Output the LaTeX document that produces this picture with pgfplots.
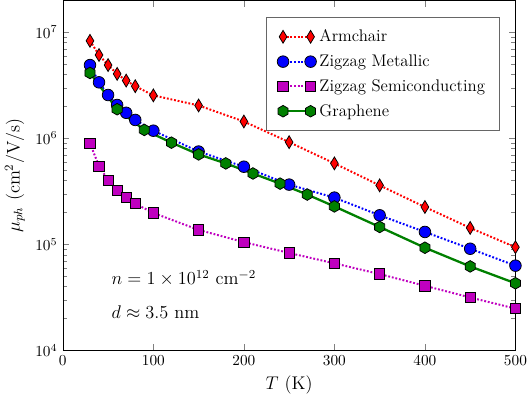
\documentclass[border=0pt]{standalone}
\usepackage{pgfplots}
\pgfplotsset{compat=1.18}
\definecolor{mred}{RGB}{255,0,0}
\definecolor{mblue}{RGB}{0,0,255}
\definecolor{mmag}{RGB}{191,0,191}
\definecolor{mgreen}{RGB}{0,128,0}
% hexagon marker, vertex on top
\pgfdeclareplotmark{hexagon}{%
  \pgfpathmoveto{\pgfqpointpolar{90}{\pgfplotmarksize}}%
  \pgfpathlineto{\pgfqpointpolar{150}{\pgfplotmarksize}}%
  \pgfpathlineto{\pgfqpointpolar{210}{\pgfplotmarksize}}%
  \pgfpathlineto{\pgfqpointpolar{270}{\pgfplotmarksize}}%
  \pgfpathlineto{\pgfqpointpolar{330}{\pgfplotmarksize}}%
  \pgfpathlineto{\pgfqpointpolar{30}{\pgfplotmarksize}}%
  \pgfpathclose\pgfusepathqfillstroke}
\begin{document}
\begin{tikzpicture}
\begin{axis}[
  scale only axis,
  width=296pt, height=229pt,
  ymode=log,
  xmin=0, xmax=500, ymin=1e4, ymax=2e7,
  xtick={0,100,200,300,400,500},
  ytick={1e4,1e5,1e6,1e7},
  xlabel={\large $T$ (K)},
  ylabel={\large $\mu_{ph}$ (cm$^2$/V/s)},
  tick align=inside,
  legend cell align=left,
  legend style={at={(0.964,0.952)}, anchor=north east, draw=black!60,
    font=\fontsize{11}{13}\selectfont, inner xsep=7pt, inner ysep=6pt, row sep=3pt},
  legend image code/.code={
    \draw[mark repeat=2, mark phase=1] plot coordinates {(0pt,0pt) (9pt,0pt) (18pt,0pt)};},
]
\addplot[mred, line width=1.3pt, dash pattern=on 1.2pt off 1.2pt,
  mark=diamond*, mark size=4.2pt, mark options={solid, fill=mred, draw=black, line width=0.5pt, xscale=0.8}]
coordinates {
(30,8.3e6) (40,6.1e6) (50,4.9e6) (60,4.05e6) (70,3.5e6) (80,3.1e6) (100,2.54e6)
(150,2.04e6) (200,1.44e6) (250,9.2e5) (300,5.8e5) (350,3.6e5) (400,2.25e5)
(450,1.43e5) (500,9.4e4)};
\addlegendentry{Armchair}
\addplot[mblue, line width=1.3pt, dash pattern=on 1.2pt off 1.2pt,
  mark=*, mark size=3.8pt, mark options={solid, fill=mblue, draw=black, line width=0.5pt}]
coordinates {
(30,4.9e6) (40,3.37e6) (50,2.56e6) (60,2.06e6) (70,1.74e6) (80,1.49e6) (100,1.18e6)
(150,7.5e5) (200,5.4e5) (250,3.66e5) (300,2.76e5) (350,1.88e5) (400,1.31e5)
(450,9.1e4) (500,6.3e4)};
\addlegendentry{Zigzag Metallic}
\addplot[mmag, line width=1.3pt, dash pattern=on 1.2pt off 1.2pt,
  mark=square*, mark size=3.4pt, mark options={solid, fill=mmag, draw=black, line width=0.5pt}]
coordinates {
(30,8.97e5) (40,5.46e5) (50,4.03e5) (60,3.25e5) (70,2.76e5) (80,2.42e5) (100,1.98e5)
(150,1.37e5) (200,1.05e5) (250,8.3e4) (300,6.63e4) (350,5.25e4) (400,4.07e4)
(450,3.16e4) (500,2.48e4)};
\addlegendentry{Zigzag Semiconducting}
\addplot[mgreen, line width=1.5pt, solid,
  mark=hexagon, mark size=3.8pt, mark options={solid, fill=mgreen, draw=black, line width=0.5pt}]
coordinates {
(30,4.13e6) (60,1.88e6) (90,1.2e6) (120,9.1e5) (150,7.05e5) (180,5.8e5) (210,4.66e5)
(240,3.74e5) (270,2.95e5) (300,2.28e5) (350,1.46e5) (400,9.3e4) (450,6.2e4) (500,4.3e4)};
\addlegendentry{Graphene}
\node[anchor=west, font=\large] at (axis cs:48,4.8e4) {$n = 1\times 10^{12}$ cm$^{-2}$};
\node[anchor=west, font=\large] at (axis cs:48,2.3e4) {$d \approx 3.5$ nm};
\end{axis}
\end{tikzpicture}
\end{document}
